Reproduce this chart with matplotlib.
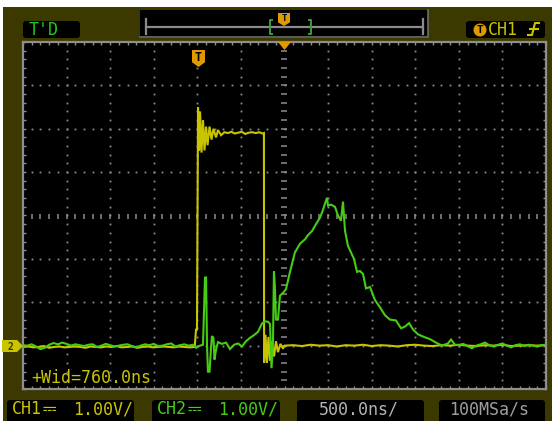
import numpy as np
import matplotlib
import matplotlib.pyplot as plt
from matplotlib import font_manager
from matplotlib.ft2font import FT2Font
from matplotlib.patches import Polygon, FancyBboxPatch, Rectangle, Circle

matplotlib.use('Agg')

W, H = 552, 421

# Time in us (500 ns/div, trigger 1 us left of centre), volts at 1 V/div.
# Both channel grounds sit 3 div below the screen centre.
ch1_base_t = np.linspace(-3.0, -1.03, 34)
ch1_base_v = [-3.03, -3.02, -3.04, -3.03, -3.01, -3.05, -3.03, -3.02, -3.04, -3.03,
              -3.02, -3.03, -3.05, -3.02, -3.03, -3.04, -3.02, -3.03, -3.01, -3.04,
              -3.03, -3.02, -3.05, -3.03, -3.02, -3.04, -3.03, -3.02, -3.03, -3.04,
              -3.02, -3.03, -3.04, -3.03]
ch1_pulse_t = [-1.015, -1.004, -0.992, -0.98, -0.969, -0.952, -0.935, -0.918, -0.90,
               -0.883, -0.86, -0.837, -0.815, -0.786, -0.763, -0.728, -0.69, -0.65,
               -0.61, -0.57, -0.53, -0.49, -0.45, -0.41, -0.37, -0.33, -0.29, -0.25,
               -0.236, -0.234, -0.218, -0.201, -0.184, -0.166, -0.143, -0.12, -0.098,
               -0.075, -0.046, -0.017]
ch1_pulse_v = [-2.63, -2.63, 2.49, 1.50, 2.40, 1.45, 2.20, 1.50, 2.05, 1.62, 2.05, 1.75,
               2.00, 1.80, 1.97, 1.85, 1.92, 1.90, 1.93, 1.89, 1.91, 1.93, 1.88, 1.91,
               1.92, 1.90, 1.92, 1.89, 1.90, -3.40, -2.75, -3.40, -2.80, -3.35, -2.90,
               -3.25, -2.90, -3.15, -2.96, -3.07]
ch1_tail_t = np.linspace(0.0, 3.0, 31)
ch1_tail_v = [-3.00, -2.99, -3.01, -2.98, -3.00, -2.99, -3.02, -2.99, -3.00, -2.98,
              -3.01, -2.99, -3.00, -3.02, -2.99, -2.98, -3.00, -3.01, -2.99, -3.00,
              -2.98, -3.00, -3.01, -2.99, -3.00, -2.98, -3.01, -3.00, -2.99, -3.00,
              -2.99]

ch2_base_t = np.linspace(-3.0, -1.05, 40)
ch2_base_v = [-2.99, -3.00, -2.97, -3.02, -3.08, -3.05, -2.98, -2.94, -2.97, -2.93,
              -2.96, -3.00, -2.97, -2.99, -3.01, -2.98, -2.97, -3.03, -3.00, -2.96,
              -2.99, -3.02, -3.00, -2.98, -2.97, -3.01, -3.04, -3.00, -2.97, -2.99,
              -2.96, -3.01, -3.00, -2.97, -2.95, -3.02, -2.99, -2.97, -3.00, -2.98]
ch2_pulse_t = [-1.015, -0.969, -0.935, -0.912, -0.90, -0.889, -0.878, -0.86, -0.843,
               -0.832, -0.815, -0.803, -0.786, -0.763, -0.717, -0.671, -0.625, -0.579,
               -0.533, -0.488, -0.442, -0.396, -0.35, -0.304, -0.258, -0.224, -0.189,
               -0.166, -0.149, -0.132, -0.121, -0.109, -0.098, -0.075, -0.052, -0.017,
               0.017, 0.063, 0.12, 0.178, 0.235, 0.27, 0.315, 0.361, 0.407, 0.442,
               0.465, 0.488, 0.499, 0.534, 0.579, 0.614, 0.648, 0.671, 0.694, 0.728,
               0.763, 0.797, 0.832, 0.866, 0.901, 0.935, 0.981, 1.038, 1.096, 1.153,
               1.21, 1.279, 1.337, 1.383, 1.429, 1.475, 1.532, 1.60, 1.669, 1.738,
               1.807, 1.875, 1.91, 1.956]
ch2_pulse_v = [-3.05, -3.00, -2.98, -1.43, -1.43, -3.00, -3.60, -3.60, -3.05, -2.78,
               -2.82, -3.32, -3.10, -2.92, -2.96, -2.93, -3.08, -2.98, -2.95, -3.02,
               -2.90, -2.82, -2.76, -2.68, -2.49, -2.44, -2.45, -2.50, -3.52, -2.90,
               -1.29, -1.70, -2.40, -2.40, -1.85, -1.78, -1.70, -1.30, -0.85, -0.65,
               -0.55, -0.45, -0.36, -0.20, -0.05, 0.13, 0.28, 0.41, 0.23, 0.25, 0.20,
               0.00, -0.12, 0.32, -0.35, -0.70, -0.85, -1.00, -1.30, -1.28, -1.35,
               -1.68, -1.65, -1.95, -2.12, -2.30, -2.40, -2.42, -2.60, -2.56, -2.48,
               -2.63, -2.74, -2.80, -2.85, -2.93, -3.00, -2.95, -2.86, -2.98]
ch2_tail_t = np.linspace(2.0, 3.0, 21)
ch2_tail_v = [-2.99, -2.96, -3.01, -3.06, -3.00, -2.97, -2.93, -2.99, -3.02, -2.98,
              -2.95, -3.00, -3.04, -2.99, -2.97, -3.01, -2.98, -3.00, -3.02, -2.99,
              -2.98]

ch1_t = np.concatenate([ch1_base_t, ch1_pulse_t, ch1_tail_t])
ch1_v = np.concatenate([ch1_base_v, ch1_pulse_v, ch1_tail_v])
ch2_t = np.concatenate([ch2_base_t, ch2_pulse_t, ch2_tail_t])
ch2_v = np.concatenate([ch2_base_v, ch2_pulse_v, ch2_tail_v])

OLIVE = '#3b3900'
GRID = '#8e8e8e'
YEL = '#c9c400'
GRN = '#46cc14'
ORANGE = '#e09a00'
MONO = ['DejaVu Sans Mono', 'DejaVu Sans']
DC = '\u2393'


def family_with(ch):
    # first installed font that actually carries the glyph
    for f in font_manager.fontManager.ttflist:
        try:
            if FT2Font(f.fname).get_char_index(ord(ch)):
                return f.name
        except Exception:
            pass
    return None


dc_family = family_with(DC)

fig = plt.figure(figsize=(W / 100, H / 100), dpi=100)
fig.patch.set_facecolor(OLIVE)

# scope screen
scr = fig.add_axes([23 / W, 1 - 389 / H, 523 / W, 347 / H])
scr.set_facecolor('black')
scr.set_xlim(-3, 3)
scr.set_ylim(-4, 4)
for sp in scr.spines.values():
    sp.set_color(GRID)
    sp.set_linewidth(1.6)
scr.set_xticks(np.arange(-3, 3.01, 0.1))
scr.set_yticks(np.arange(-4, 4.01, 0.2))
scr.tick_params(direction='in', length=2.5, width=1, color=GRID,
                top=True, right=True, labelbottom=False, labelleft=False)

# dotted graticule
div_x = [x for x in np.arange(-2.5, 2.51, 0.5) if abs(x) > 1e-9]
div_y = [y for y in np.arange(-3, 3.01, 1.0) if abs(y) > 1e-9]
sub_y = np.arange(-3.8, 3.81, 0.2)
sub_x = np.arange(-2.9, 2.91, 0.1)
gx, gy = np.meshgrid(div_x, sub_y)
scr.plot(gx.ravel(), gy.ravel(), 's', ms=1.3, mew=0, color=GRID)
hx, hy = np.meshgrid(sub_x, div_y)
scr.plot(hx.ravel(), hy.ravel(), 's', ms=1.3, mew=0, color=GRID)
scr.plot(np.zeros_like(sub_y), sub_y, '_', ms=3.8, mew=1.1, color=GRID)
scr.plot(sub_x, np.zeros_like(sub_x), '|', ms=3.6, mew=1.1, color=GRID)

# traces
scr.plot(ch1_t, ch1_v, color=YEL, lw=1.5, solid_joinstyle='miter')
scr.plot(ch2_t, ch2_v, color=GRN, lw=1.5, solid_joinstyle='miter')

# overlay in pixel units for the status bars and markers
ov = fig.add_axes([0, 0, 1, 1], zorder=5)
ov.set_xlim(0, W)
ov.set_ylim(H, 0)
ov.axis('off')
ov.patch.set_alpha(0)

ov.add_patch(Rectangle((0, 0), W, 7, color='white', lw=0))
ov.add_patch(Rectangle((0, 0), 3, H, color='white', lw=0))


def box(x0, y0, x1, y1):
    ov.add_patch(FancyBboxPatch((x0, y0), x1 - x0, y1 - y0,
                                boxstyle='round,pad=0,rounding_size=3',
                                fc='black', ec='none'))


def trig_tag(cx, top, w, h):
    pts = [(cx - w / 2, top), (cx + w / 2, top), (cx + w / 2, top + h * 0.72),
           (cx, top + h), (cx - w / 2, top + h * 0.72)]
    ov.add_patch(Polygon(pts, closed=True, fc=ORANGE, ec='none'))
    ov.text(cx, top + h * 0.42, 'T', ha='center', va='center', color='black',
            fontsize=h * 0.5, fontweight='bold', family=MONO)


def channel_label(x, name, color):
    ov.text(x, 409, name, color=color, fontsize=12, family=MONO, ha='left', va='center')
    if dc_family:
        ov.text(x + 30, 409, DC, color=color, fontsize=12,
                family=[dc_family] + MONO, ha='left', va='center')
    else:
        # DC coupling sign: solid bar over a dashed bar
        ov.plot([x + 31, x + 43], [404, 404], color=color, lw=1.3)
        for k in range(3):
            ov.plot([x + 31 + 4.5 * k, x + 33.5 + 4.5 * k], [407.5, 407.5],
                    color=color, lw=1.3)
    ov.text(x + 61, 409, '1.00V/', color=color, fontsize=12, family=MONO,
            ha='left', va='center')


# top left mode
box(23, 21, 80, 38)
ov.text(29, 30, "T'D", color='#1ec81e', fontsize=12, family=MONO,
        ha='left', va='center')

# memory position bar
ov.add_patch(Rectangle((140, 10), 288, 28, fc='black', ec='none'))
ov.plot([140, 428, 428], [37, 37, 10], color='#6e6e6e', lw=1.2)
ov.plot([146, 423], [27, 27], color='#8a8a8a', lw=1.6)
ov.plot([146, 146], [19, 34], color='#8a8a8a', lw=1.6)
ov.plot([423, 423], [19, 34], color='#8a8a8a', lw=1.6)
ov.plot([272, 270, 270, 272], [20, 20, 34, 34], color='#3c9c3c', lw=1.4)
ov.plot([309, 311, 311, 309], [20, 20, 34, 34], color='#3c9c3c', lw=1.4)
trig_tag(284, 13, 12, 13)

# top right trigger source
box(466, 21, 545, 38)
ov.add_patch(Circle((480, 30), 6.5, fc=ORANGE, ec='none'))
ov.text(480, 30, 'T', ha='center', va='center', color='black', fontsize=8,
        fontweight='bold', family=MONO)
ov.text(488, 30, 'CH1', color=YEL, fontsize=12, family=MONO, ha='left', va='center')
ov.plot([528, 532, 535, 539], [35, 35, 23, 23], color=YEL, lw=1.5)
ov.plot([530, 538], [29, 29], color=YEL, lw=1.5)

# trigger position / level markers on the screen
ov.add_patch(Polygon([(278, 42), (291, 42), (284.5, 50)], closed=True,
                     fc=ORANGE, ec='none'))
trig_tag(198.5, 50, 13, 17)
ov.add_patch(Polygon([(2, 340), (17, 340), (23, 346), (17, 352), (2, 352)],
                     closed=True, fc=YEL, ec='none'))
ov.text(10, 346.5, '2', ha='center', va='center', color=OLIVE, fontsize=7,
        fontweight='bold', family=MONO)

ov.text(31, 378, '+Wid=760.0ns', color=YEL, fontsize=12, family=MONO,
        ha='left', va='center')

# bottom status line
box(7, 400, 134, 425)
box(152, 400, 280, 425)
box(297, 400, 424, 425)
box(439, 400, 545, 425)
channel_label(12, 'CH1', YEL)
channel_label(157, 'CH2', GRN)
ov.text(319, 409, '500.0ns/', color='#b4b4b4', fontsize=12, family=MONO,
        ha='left', va='center')
ov.text(449, 409, '100MSa/s', color='#9e9e9e', fontsize=12, family=MONO,
        ha='left', va='center')

fig.savefig('out.png', dpi=100, facecolor=fig.get_facecolor())
